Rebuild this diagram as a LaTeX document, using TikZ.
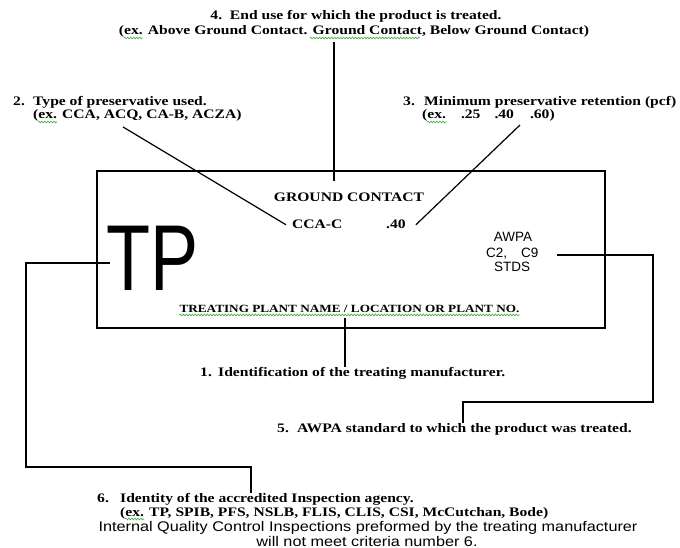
\documentclass[tikz,border=0pt]{standalone}
\usepackage{fontspec}
\setmainfont[FakeStretch=1.2]{Liberation Serif}
\setsansfont{Liberation Sans}
\newfontfamily\notefont[FakeStretch=1.16]{Liberation Sans}
\usetikzlibrary{decorations.pathmorphing}
\definecolor{spellgreen}{RGB}{60,170,60}

\begin{document}
\begin{tikzpicture}[x=1pt,y=-1pt,
  wire/.style={line width=1.2pt},
  spell/.style={spellgreen,line width=0.6pt,decorate,decoration={snake,amplitude=0.9pt,segment length=3pt}},
  lbl/.style={font=\bfseries\fontsize{13}{15}\selectfont,inner sep=0pt},
  stamp/.style={font=\sffamily\fontsize{13.5}{15}\selectfont,inner sep=0pt},
  note/.style={font=\notefont\fontsize{14}{16}\selectfont,inner sep=0pt}]
  \useasboundingbox (0,0) rectangle (680,548);
  \node[draw,wire,minimum width=508pt,minimum height=157pt,inner sep=0pt] (tag) at (351,249.5) {};

  \node[lbl,anchor=base] (use) at (356,20) {4.\ \ End use for which the product is treated.};
  \node[lbl,anchor=base] (useex) at (354,35) {(ex. Above Ground Contact. Ground Contact, Below Ground Contact)};
  \node[lbl,anchor=base west] (type) at (13,106) {\makebox[20pt][l]{2.}Type of preservative used.};
  \node[lbl,anchor=base west] (typeex) at (33,119) {(ex. CCA, ACQ, CA-B, ACZA)};
  \node[lbl,anchor=base west] (ret) at (403,106) {\makebox[21pt][l]{3.}Minimum preservative retention (pcf)};
  \node[lbl,anchor=base west] (retex) at (422,119) {(ex.\hspace{15pt}.25\hspace{14pt}.40\hspace{16pt}.60)};

  \node[lbl,anchor=base] (ground) at (349,202) {GROUND CONTACT};
  \node[lbl,anchor=base west,inner xsep=6pt] (cca) at (286,229) {CCA-C};
  \node[lbl,anchor=base west,inner xsep=10pt] (rate) at (376,229) {.40};
  \node[stamp,anchor=base] (awpa) at (513,242) {AWPA};
  \node[stamp,anchor=base west] (codes) at (486,258) {C2,\hspace{14pt}C9};
  \node[stamp,anchor=base] (stds) at (512,272) {STDS};
  \node[anchor=base west,inner sep=0pt] (tp) at (106,290) {\scalebox{0.77}[1]{\sffamily\fontsize{93.6}{94}\selectfont TP}};
  \node[lbl,font=\bfseries\fontsize{11}{13}\selectfont,anchor=base] (plant) at (349.5,312) {TREATING PLANT NAME / LOCATION OR PLANT NO.};

  \node[lbl,anchor=base west] (ident) at (200,376) {\makebox[18pt][l]{1.}Identification of the treating manufacturer.};
  \node[lbl,anchor=base west] (awpastd) at (277,432) {\makebox[20pt][l]{5.}AWPA standard to which the product was treated.};
  \node[lbl,anchor=base west] (agency) at (97,502) {\makebox[23pt][l]{6.}Identity of the accredited Inspection agency.};
  \node[lbl,anchor=base west] (agencyex) at (120,516) {(ex. TP, SPIB, PFS, NSLB, FLIS, CLIS, CSI, McCutchan, Bode)};
  \node[note,anchor=base] (inhouse) at (368,531) {Internal Quality Control Inspections preformed by the treating manufacturer};
  \node[note,anchor=base] (inhouse2) at (367,546) {will not meet criteria number 6.};

  \draw[spell] ([shift={(5,3)}]useex.base west) -- ++(19,0);
  \draw[spell] ([shift={(191,3)}]useex.base west) -- ++(110,0);
  \draw[spell] ([shift={(5,3)}]typeex.base west) -- ++(19,0);
  \draw[spell] ([shift={(5,3)}]retex.base west) -- ++(19,0);
  \draw[spell] ([shift={(5,3)}]agencyex.base west) -- ++(19,0);
  \draw[spell] ([yshift=-3pt]plant.base west) -- ([yshift=-3pt]plant.base east);

  \coordinate (usefoot) at (334,42);
  \coordinate (usetip) at (334,181);
  \coordinate (typefoot) at (123,127);
  \coordinate (retfoot) at (520,125);
  \coordinate (plantfoot) at (345,318);
  \coordinate (stdtip) at (557,255);
  \coordinate (stdbend) at (653,402);
  \coordinate (agencytip) at (110,263);
  \coordinate (agencybend) at (26,467);

  \draw[wire] (usefoot) -- (usetip);
  \draw[wire] (typefoot) -- (cca.west);
  \draw[wire] (retfoot) -- (rate.east);
  \draw[wire] (plantfoot) -- (plantfoot |- ident.north);
  \draw[wire] (stdtip) -| (stdbend) -| (awpastd.north -| 463,0);
  \draw[wire] (agencytip) -| (agencybend) -| (agency.north -| 251,0);
\end{tikzpicture}
\end{document}
